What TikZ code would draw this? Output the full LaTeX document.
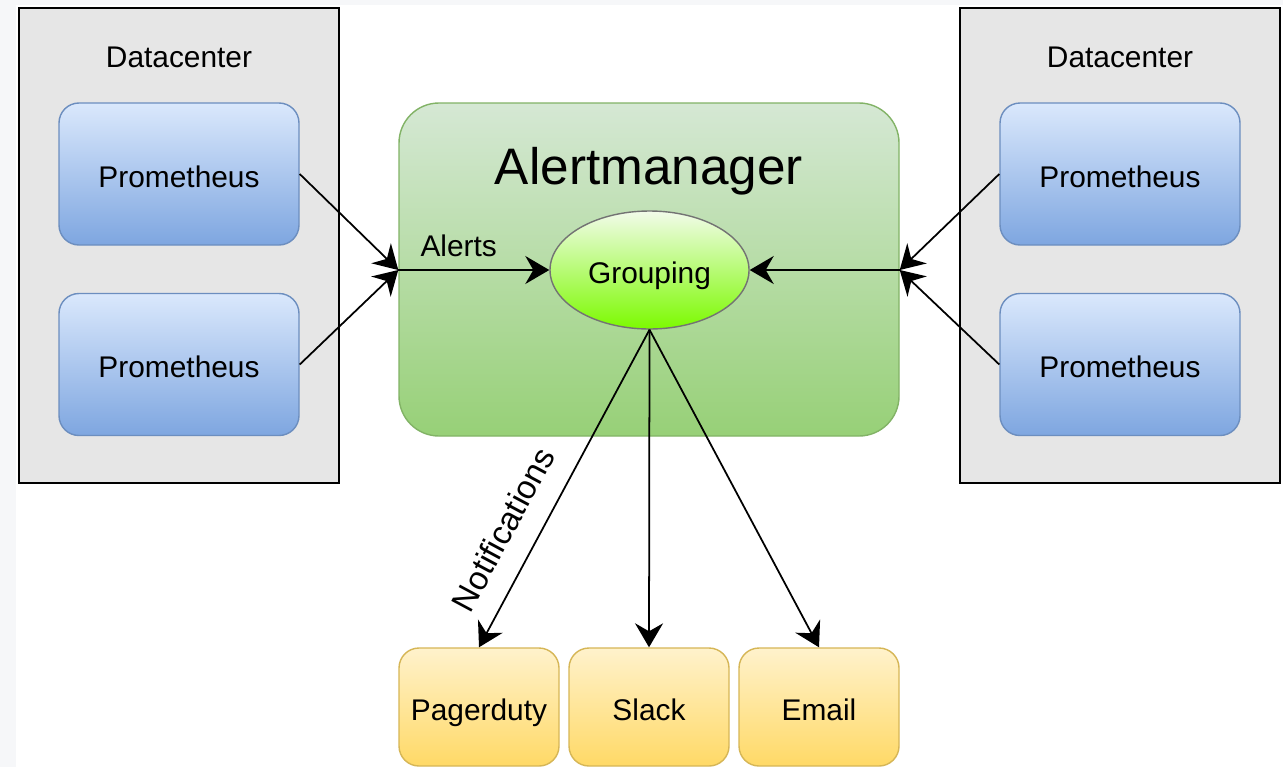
\documentclass[tikz,border=0pt]{standalone}
\usepackage{fontspec}
\setmainfont{Liberation Sans}
\usetikzlibrary{arrows.meta,shapes.geometric}

\definecolor{dcfill}{HTML}{E6E6E6}
\definecolor{promtop}{HTML}{DAE8FC}
\definecolor{prombot}{HTML}{7EA6E0}
\definecolor{promline}{HTML}{6C8EBF}
\definecolor{amtop}{HTML}{D5E8D4}
\definecolor{ambot}{HTML}{97D077}
\definecolor{amline}{HTML}{82B366}
\definecolor{grptop}{HTML}{F2FBEA}
\definecolor{grpbot}{HTML}{7CFA00}
\definecolor{outtop}{HTML}{FFF2CC}
\definecolor{outbot}{HTML}{FFD966}
\definecolor{outline}{HTML}{D6B656}
\definecolor{margin}{HTML}{F6F7F9}

\def\labelfont{\fontsize{8.5}{10}\selectfont}

\tikzset{
    dcbox/.style={draw=black, line width=0.6pt, fill=dcfill, inner sep=0pt,
        minimum width=3.2cm, minimum height=4.75cm},
    prombox/.style={draw=promline, line width=0.4pt, top color=promtop, bottom color=prombot,
        rounded corners=0.2cm, inner sep=0pt, minimum width=2.4cm, minimum height=1.42cm,
        font=\labelfont, text height=1.6ex, text depth=0.2ex},
    ambox/.style={draw=amline, line width=0.4pt, top color=amtop, bottom color=ambot,
        rounded corners=0.4cm, inner sep=0pt, minimum width=5cm, minimum height=3.33cm},
    grpell/.style={ellipse, draw=black!55, line width=0.4pt, top color=grptop, bottom color=grpbot,
        inner sep=0pt, minimum width=1.99cm, minimum height=1.18cm,
        font=\labelfont, text height=1.6ex, text depth=0.2ex},
    outbox/.style={draw=outline, line width=0.4pt, top color=outtop, bottom color=outbot,
        rounded corners=0.2cm, inner sep=0pt, minimum width=1.6cm, minimum height=1.18cm,
        font=\labelfont, text height=1.6ex, text depth=0.2ex},
    arr/.style={line width=0.5pt, -{Stealth[length=0.24cm, width=0.28cm, inset=0.08cm]}}
}

\begin{document}
\begin{tikzpicture}
        \useasboundingbox (0,0) rectangle (12.83,7.67);
        \fill[margin] (0,0) rectangle (12.83,7.67);
        \fill[white] (0.16,0) rectangle (12.83,7.62);

        % the two datacenters
        \node[dcbox] (dcl) at (1.79,5.215) {};
        \node[dcbox] (dcr) at (11.20,5.215) {};
        \node[font=\labelfont] (dcltitle) at (1.79,7.10) {Datacenter};
        \node[font=\labelfont] (dcrtitle) at (11.20,7.10) {Datacenter};
        \node[prombox] (pl1) at (1.79,5.93) {Prometheus};
        \node[prombox] (pl2) at (1.79,4.025) {Prometheus};
        \node[prombox] (pr1) at (11.20,5.93) {Prometheus};
        \node[prombox] (pr2) at (11.20,4.025) {Prometheus};

        % alertmanager
        \node[ambox] (am) at (6.49,4.975) {};
        \node[font=\fontsize{14.6}{17}\selectfont] (amtitle) at (6.49,5.96) {Alertmanager};
        \node[grpell] (grp) at (6.495,4.97) {Grouping};
        \coordinate (amin) at (am.west |- grp.west);
        \coordinate (amout) at (am.east |- grp.east);

        % receivers
        \node[outbox] (pd) at (4.79,0.60) {Pagerduty};
        \node[outbox] (sl) at (6.49,0.60) {Slack};
        \node[outbox] (em) at (8.19,0.60) {Email};

        \draw[arr] (pl1.east) -- (amin);
        \draw[arr] (pl2.east) -- (amin);
        \draw[arr] (amin) -- node[above, font=\labelfont, pos=0.4, inner sep=3.5pt] {Alerts} (grp.west);
        \draw[arr] (pr1.west) -- (amout);
        \draw[arr] (pr2.west) -- (amout);
        \draw[arr] (amout) -- (grp.east);

        \draw[arr] (grp.south) -- node[sloped, above=0.1cm, pos=0.68, font=\fontsize{9.4}{11}\selectfont] {Notifications} (pd.north);
        \draw[arr] (grp.south) -- (sl.north);
        \draw[arr] (grp.south) -- (em.north);
    \end{tikzpicture}
\end{document}
